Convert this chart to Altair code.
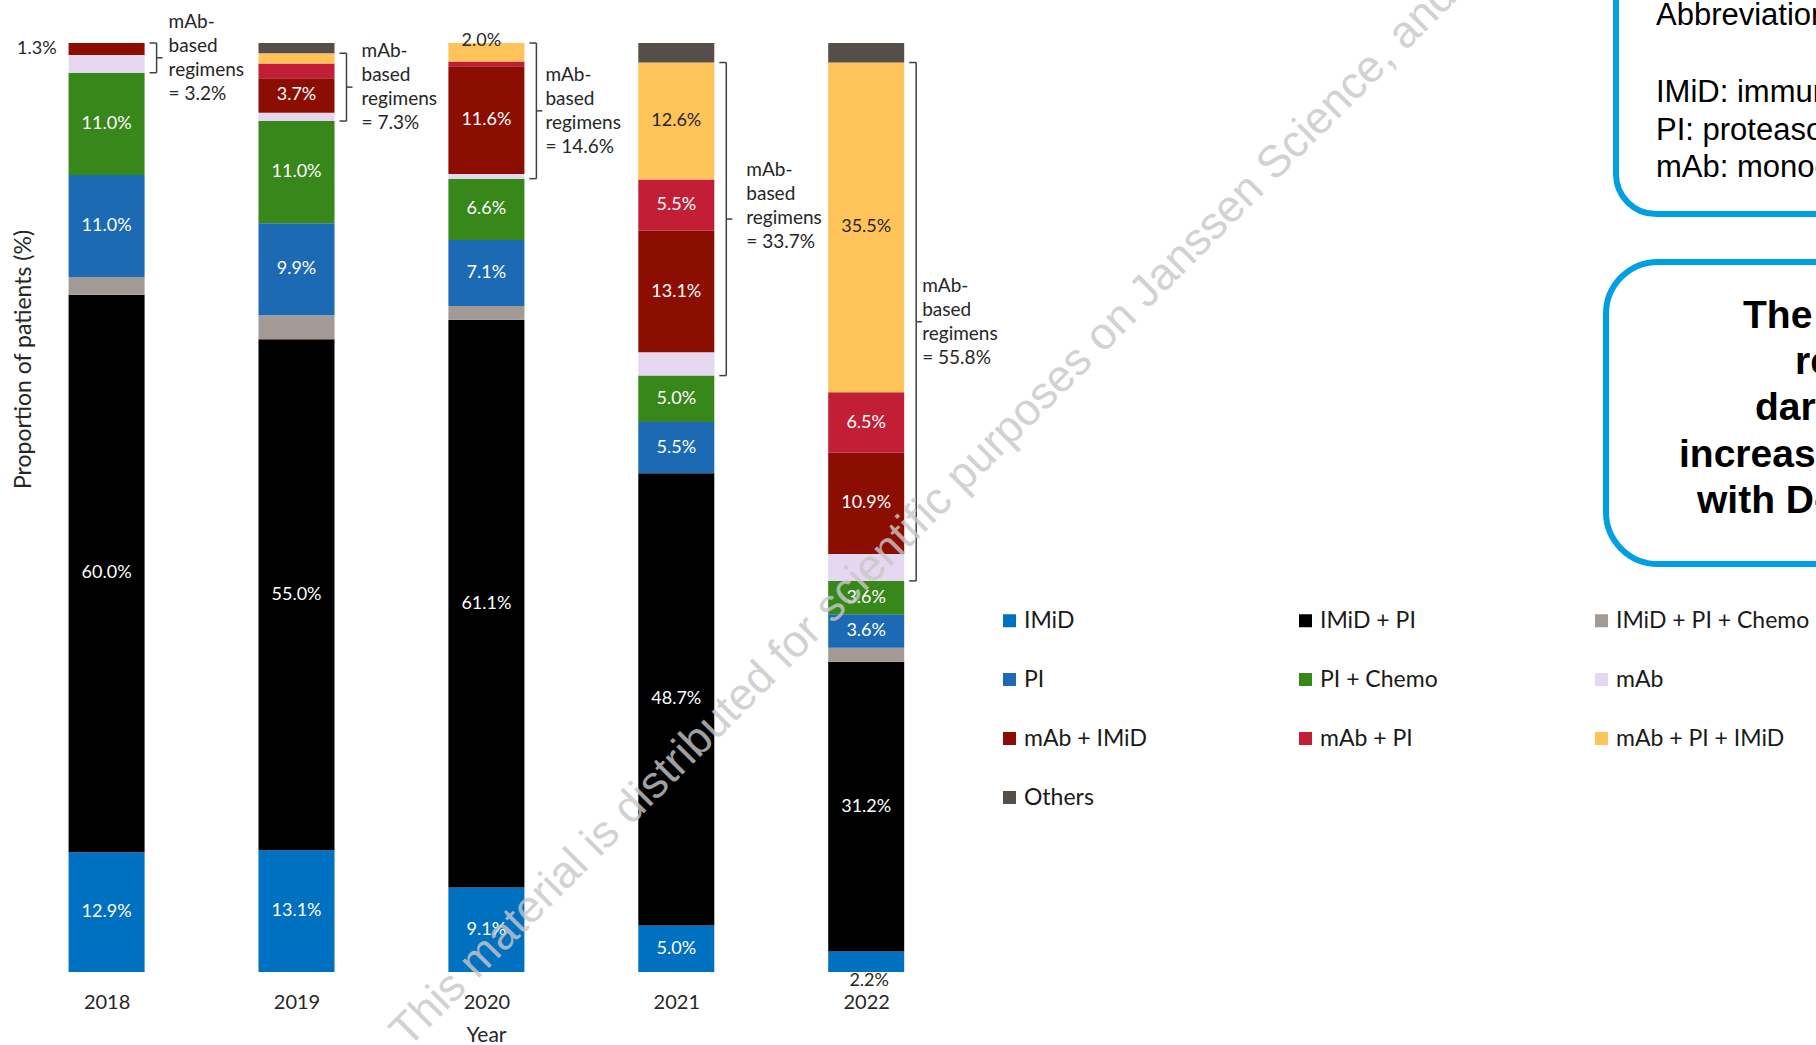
import altair as alt
import pandas as pd

# ---------------- data ----------------
years = [2018, 2019, 2020, 2021, 2022]
categories = ["IMiD", "IMiD + PI", "IMiD + PI + Chemo", "PI", "PI + Chemo",
              "mAb", "mAb + IMiD", "mAb + PI", "mAb + PI + IMiD", "Others"]
colors = ["#0070C0", "#000000", "#A39A95", "#1C6AB3", "#37871A",
          "#E6D7F0", "#8C0E02", "#C21F36", "#FEC45A", "#564E49"]

v_imid          = [12.9, 13.1, 9.1, 5.0, 2.2]
v_imid_pi       = [60.0, 55.0, 61.1, 48.7, 31.2]
v_imid_pi_chemo = [1.9, 2.6, 1.5, 0.0, 1.5]
v_pi            = [11.0, 9.9, 7.1, 5.5, 3.6]
v_pi_chemo      = [11.0, 11.0, 6.6, 5.0, 3.6]
v_mab           = [1.9, 0.9, 0.5, 2.5, 2.9]
v_mab_imid      = [1.3, 3.7, 11.6, 13.1, 10.9]
v_mab_pi        = [0.0, 1.6, 0.5, 5.5, 6.5]
v_mab_pi_imid   = [0.0, 1.1, 2.0, 12.6, 35.5]
v_others        = [0.0, 1.1, 0.0, 2.1, 2.1]
mab_totals      = [3.2, 7.3, 14.6, 33.7, 55.8]

# segments whose value is printed inside the bar
labelled_inside = [
    (2018, "IMiD"), (2018, "IMiD + PI"), (2018, "PI"), (2018, "PI + Chemo"),
    (2019, "IMiD"), (2019, "IMiD + PI"), (2019, "PI"), (2019, "PI + Chemo"), (2019, "mAb + IMiD"),
    (2020, "IMiD"), (2020, "IMiD + PI"), (2020, "PI"), (2020, "PI + Chemo"), (2020, "mAb + IMiD"),
    (2021, "IMiD"), (2021, "IMiD + PI"), (2021, "PI"), (2021, "PI + Chemo"), (2021, "mAb + IMiD"),
    (2021, "mAb + PI"), (2021, "mAb + PI + IMiD"),
    (2022, "IMiD + PI"), (2022, "PI"), (2022, "PI + Chemo"), (2022, "mAb + IMiD"),
    (2022, "mAb + PI"), (2022, "mAb + PI + IMiD"),
]
label_left = [(2018, "mAb + IMiD")]
label_above = [(2020, "mAb + PI + IMiD")]
label_below = [(2022, "IMiD")]

mab_cats = ["mAb", "mAb + IMiD", "mAb + PI", "mAb + PI + IMiD"]

y_title = "Proportion of patients (%)"
x_title = "Year"
watermark = "This material is distributed for scientific purposes on Janssen Science, and not for promotional use"
abbrev_lines = ["Abbreviations", "IMiD: immunomodulatory drug", "PI: proteasome inhibitor",
                "mAb: monoclonal antibody"]
key_lines = ["The proportion of", "regimens containing", "daratumumab",
             "increased over time,", "with D-VRd"]

# ---------------- tables ----------------
series = [v_imid, v_imid_pi, v_imid_pi_chemo, v_pi, v_pi_chemo,
          v_mab, v_mab_imid, v_mab_pi, v_mab_pi_imid, v_others]
rows = []
br_rows = []
for j, yr in enumerate(years):
    cum = 0.0
    mab_lo = None
    mab_hi = None
    for i, cat in enumerate(categories):
        v = series[i][j]
        lo, hi = cum, cum + v
        cum = hi
        if cat in mab_cats:
            mab_lo = lo if mab_lo is None else mab_lo
            mab_hi = hi
        kind = "none"
        if (yr, cat) in labelled_inside:
            kind = "inside"
        elif (yr, cat) in label_left:
            kind = "left"
        elif (yr, cat) in label_above:
            kind = "above"
        elif (yr, cat) in label_below:
            kind = "below"
        rows.append({"year": yr, "category": cat, "value": v, "lo": lo, "hi": hi,
                     "mid": (lo + hi) / 2, "label": f"{v:.1f}%", "kind": kind})
    br_rows.append({"year": yr, "lo": mab_lo, "hi": mab_hi, "mid": (mab_lo + mab_hi) / 2,
                    "text": f"mAb-\nbased\nregimens\n= {mab_totals[j]:.1f}%"})
df = pd.DataFrame(rows)
df_br = pd.DataFrame(br_rows)

# ---------------- scales ----------------
xscale = alt.Scale(domain=[2017.7546, 2027.0016], nice=False, zero=False, padding=0)
yscale = alt.Scale(domain=[0, 104.63], nice=False, zero=True)
LBL = "Lato"
DARK = "#262626"

base = alt.Chart(df)

bars = base.mark_bar(size=76).encode(
    x=alt.X("year:Q", scale=xscale,
            axis=alt.Axis(values=years, format="d", title=x_title, grid=False, domain=False,
                          ticks=False, labelFont=LBL, labelFontSize=20, labelColor=DARK,
                          labelPadding=20, labelFlush=False, labelOverlap=False,
                          titleFont=LBL, titleFontSize=21, titleFontWeight="normal",
                          titleColor=DARK, titleX=426, titleY=63, titleBaseline="middle")),
    y=alt.Y("lo:Q", scale=yscale,
            axis=alt.Axis(title=y_title, labels=False, ticks=False, domain=False, grid=False,
                          titleFont=LBL, titleFontSize=23, titleFontWeight="normal",
                          titleColor=DARK, titleX=-37, titleY=359, titleAngle=270,
                          titleAlign="center", titleBaseline="middle")),
    y2="hi:Q",
    color=alt.Color("category:N", scale=alt.Scale(domain=categories, range=colors),
                    legend=alt.Legend(title=None, orient="none", legendX=938, legendY=609,
                                      direction="horizontal", columns=3, gridAlign="all",
                                      columnPadding=76, rowPadding=35, symbolType="square",
                                      symbolSize=169, symbolStrokeWidth=0, labelFont=LBL,
                                      labelFontSize=23, labelColor="#1a1a1a", labelOffset=3,
                                      labelLimit=400, padding=0)),
)

inside = base.transform_filter(alt.datum.kind == "inside").mark_text(
    font=LBL, fontSize=18, baseline="middle", align="center").encode(
    x="year:Q", y="mid:Q", text="label:N",
    color=alt.condition(alt.datum.category == "mAb + PI + IMiD", alt.value(DARK), alt.value("white")),
)
left_lbl = base.transform_filter(alt.datum.kind == "left").mark_text(
    font=LBL, fontSize=18, baseline="middle", align="right", dx=-50, color=DARK).encode(
    x="year:Q", y="mid:Q", text="label:N")
above_lbl = base.transform_filter(alt.datum.kind == "above").mark_text(
    font=LBL, fontSize=18, baseline="middle", align="center", dx=-5, dy=-11, color=DARK).encode(
    x="year:Q", y="mid:Q", text="label:N")
below_lbl = base.transform_filter(alt.datum.kind == "below").mark_text(
    font=LBL, fontSize=18, baseline="middle", align="center", dx=3, dy=19, color=DARK).encode(
    x="year:Q", y="mid:Q", text="label:N")

# brackets
bb = alt.Chart(df_br)
BR = "#404040"
br_v = bb.mark_rule(color=BR, strokeWidth=1.5, xOffset=50).encode(x="year:Q", y="lo:Q", y2="hi:Q")
br_top = bb.mark_rule(color=BR, strokeWidth=1.5, xOffset=43, x2Offset=50).encode(
    x="year:Q", x2="year:Q", y="hi:Q")
br_bot = bb.mark_rule(color=BR, strokeWidth=1.5, xOffset=43, x2Offset=50).encode(
    x="year:Q", x2="year:Q", y="lo:Q")
br_tip = bb.mark_rule(color=BR, strokeWidth=1.5, xOffset=50, x2Offset=56).encode(
    x="year:Q", x2="year:Q", y="mid:Q")

# per-bracket text nudges (layout only): year -> (dx, dy)
br_nudge = {2018: (62, -36), 2019: (65, -36), 2020: (59, -36), 2021: (70, -49), 2022: (56, -36)}
br_txt_layers = [
    bb.transform_filter(alt.datum.year == yr).mark_text(
        font=LBL, fontSize=19, align="left", baseline="middle", dx=d[0], dy=d[1],
        lineBreak="\n", lineHeight=24, color=DARK).encode(
        x="year:Q", y="mid:Q", text="text:N")
    for yr, d in br_nudge.items()
]

# watermark
wm = alt.Chart(pd.DataFrame({"t": [watermark]})).mark_text(
    font="Liberation Sans", fontSize=45, angle=315, align="left", baseline="alphabetic",
    color="#C8C8C8", opacity=0.8).encode(x=alt.value(348), y=alt.value(1049), text="t:N")

# right-hand boxes
one = pd.DataFrame({"a": [0]})
BLUE = "#009FE3"
box1 = alt.Chart(one).mark_rect(fillOpacity=0, stroke=BLUE, strokeWidth=6, cornerRadius=40).encode(
    x=alt.value(1556), x2=alt.value(1996), y=alt.value(-60), y2=alt.value(214))
box2 = alt.Chart(one).mark_rect(fillOpacity=0, stroke=BLUE, strokeWidth=6, cornerRadius=52).encode(
    x=alt.value(1546), x2=alt.value(1996), y=alt.value(262), y2=alt.value(564))

ab_y = [25, 102, 140, 177]
ab_layers = [
    alt.Chart(pd.DataFrame({"t": [s]})).mark_text(
        font="Liberation Sans", fontSize=31, align="left", baseline="alphabetic", color="black").encode(
        x=alt.value(1596), y=alt.value(yv), text="t:N")
    for s, yv in zip(abbrev_lines, ab_y)
]
key_x = [1683, 1735, 1695, 1619, 1637]
key_y = [328, 374, 420, 467, 513]
key_layers = [
    alt.Chart(pd.DataFrame({"t": [s]})).mark_text(
        font="Liberation Sans", fontSize=39, fontWeight="bold", align="left",
        baseline="alphabetic", color="black").encode(
        x=alt.value(xv), y=alt.value(yv), text="t:N")
    for s, xv, yv in zip(key_lines, key_x, key_y)
]

chart = alt.layer(
    bars, inside, left_lbl, above_lbl, below_lbl,
    br_v, br_top, br_bot, br_tip, *br_txt_layers,
    box1, box2, *ab_layers, *key_layers, wm,
).properties(
    width=1756, height=972,
    padding={"left": 60, "top": 0, "right": 0, "bottom": 73},
    autosize=alt.AutoSizeParams(type="none"),
    background="white",
).configure_view(stroke=None)

chart.save("out.html", embed_options={"renderer": "svg", "actions": False})
